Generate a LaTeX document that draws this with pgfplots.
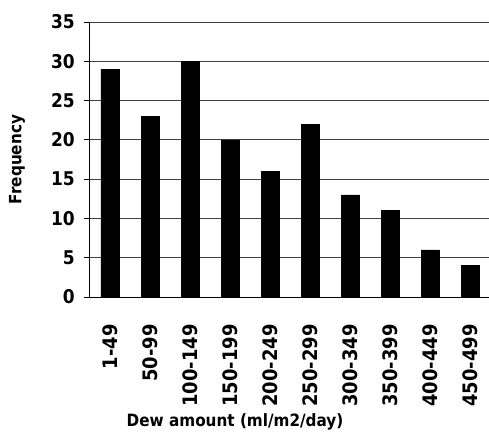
\documentclass[border=0pt]{standalone}
\usepackage{pgfplots}
\pgfplotsset{compat=1.18}
\usepackage{fontspec}
\setmainfont{DejaVu Sans Condensed}
\begin{document}
\begin{tikzpicture}
\begin{axis}[
  name=ax,
  scale only axis,
  width=400bp, height=275bp,
  xmin=-0.5, xmax=9.5,
  ymin=0, ymax=35,
  ytick={0,5,...,35},
  xtick={0,...,9},
  xticklabels={1-49,50-99,100-149,150-199,200-249,250-299,300-349,350-399,400-449,450-499},
  axis x line*=bottom,
  axis y line*=left,
  axis line style={black, line width=1bp, -},
  ymajorgrids,
  grid style={black!75, line width=1bp},
  y tick style={black, line width=1bp},
  tick align=outside,
  major tick length=6bp,
  x tick style={draw=none},
  /pgf/number format/assume math mode=true,
  yticklabel style={font=\fontsize{19}{19}\selectfont\bfseries, anchor=east, inner sep=0pt},
  yticklabel shift=9bp,
  xticklabel style={font=\fontsize{20}{20}\selectfont\bfseries, rotate=90, anchor=east, inner sep=0pt},
  xticklabel shift=21bp,
  xlabel={Dew amount (ml/m2/day)},
  xlabel style={font=\fontsize{17}{17}\selectfont\bfseries, at={(axis description cs:0.3625,-0.453)}, anchor=center},
  ylabel={Frequency},
  ylabel style={font=\fontsize{17}{17}\selectfont\bfseries, at={(axis description cs:-0.1825,0.5)}, anchor=center},
]
\addplot[ybar, bar width=18bp, fill=black, draw=black] coordinates {
(0,29) (1,23) (2,30) (3,20) (4,16) (5,22) (6,13) (7,11) (8,6) (9,4)};
\end{axis}
\pgfresetboundingbox
\path[use as bounding box] (ax.south west) ++(-90bp,-145bp) rectangle ++(489bp,442bp);
\end{tikzpicture}
\end{document}
